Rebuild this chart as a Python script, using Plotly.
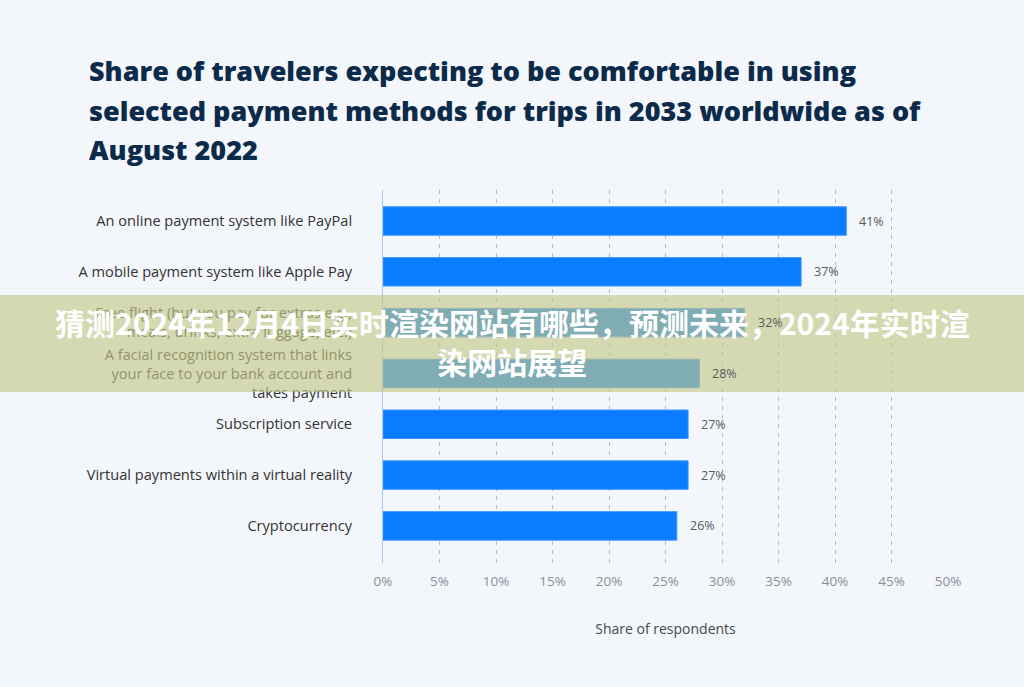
import plotly.graph_objects as go

categories = [
    "An online payment system like PayPal",
    "A mobile payment system like Apple Pay",
    "Free flight (but you pay for extras e.g.,<br>meals, drinks, extra luggage, etc.)",
    "A facial recognition system that links<br>your face to your bank account and<br>takes payment",
    "Subscription service",
    "Virtual payments within a virtual reality",
    "Cryptocurrency",
]
values = [41, 37, 32, 28, 27, 27, 26]
value_labels = [f"{v}%" for v in values]
x_ticks = [0, 5, 10, 15, 20, 25, 30, 35, 40, 45, 50]
x_tick_labels = [f"{t}%" for t in x_ticks]

title_lines = [
    "Share of travelers expecting to be comfortable in using",
    "selected payment methods for trips in 2033 worldwide as of",
    "August 2022",
]
banner_text = "猜测2024年12月4日实时渲染网站有哪些，预测未来，2024年实时渲<br>染网站展望"

BG = "#f3f6fa"
BLUE = "#0a7cff"

# plot area in pixels
L, R, T, B = 383, 948, 190, 563
W, H = R - L, B - T


def px_x(x):
    return (x - L) / W


def px_y(y):
    return (B - y) / H


fig = go.Figure()
fig.add_trace(go.Bar(
    y=categories, x=values, orientation="h",
    marker=dict(color=BLUE, line=dict(color="#3d95ff", width=1)),
    width=0.56,
    hoverinfo="skip",
))

for cat, v, lab in zip(categories, values, value_labels):
    fig.add_annotation(
        x=v, y=cat, text=lab, xref="x", yref="y",
        xanchor="left", yanchor="middle", xshift=11, showarrow=False,
        font=dict(family="Open Sans", size=12.5, color="#555a60"),
    )

fig.update_layout(
    width=1024, height=687,
    paper_bgcolor=BG, plot_bgcolor=BG,
    margin=dict(l=L, r=1024 - R, t=T, b=687 - B),
    showlegend=False,
    font=dict(family="Open Sans", color="#333"),
    xaxis=dict(
        range=[0, 50], tickvals=x_ticks, ticktext=x_tick_labels,
        showgrid=True, gridcolor="#b3bac5", griddash="4px,5px", gridwidth=1,
        zeroline=False, showline=False,
        tickfont=dict(family="Open Sans", size=13.5, color="#8a9099"),
        ticks="", ticklabelstandoff=8,
        title=dict(text="Share of respondents", standoff=35,
                   font=dict(family="Open Sans", size=14, color="#444a52")),
    ),
    yaxis=dict(
        range=[6.73, -0.61], type="category",
        showgrid=False, zeroline=False,
        showline=True, linecolor="#a9c6ee", linewidth=1,
        ticks="", ticklabelstandoff=27,
        tickfont=dict(family="Open Sans", size=14.6, color="#333"),
    ),
    bargap=0.44,
)

# title, one annotation per line
for i, line in enumerate(title_lines):
    fig.add_annotation(
        text=line, xref="paper", yref="paper",
        x=px_x(87), y=px_y(70 + 40 * i), xanchor="left", yanchor="middle",
        showarrow=False,
        font=dict(family="Open Sans", size=27, color="#0c2b4b", weight=800),
    )

# overlay banner
fig.add_shape(
    type="rect", xref="paper", yref="paper",
    x0=px_x(0), x1=px_x(1024),
    y0=px_y(392), y1=px_y(295),
    fillcolor="rgba(196,201,136,0.64)", line=dict(width=0), layer="above",
)
fig.add_annotation(
    text=banner_text, xref="paper", yref="paper",
    x=px_x(512), y=px_y(341.5),
    xanchor="center", yanchor="middle", showarrow=False, align="center",
    font=dict(family="Noto Sans CJK SC", size=30, color="white", weight=700),
)

fig.write_html("out.html", config={"displayModeBar": False},
               post_script="document.body.style.margin='0';")
